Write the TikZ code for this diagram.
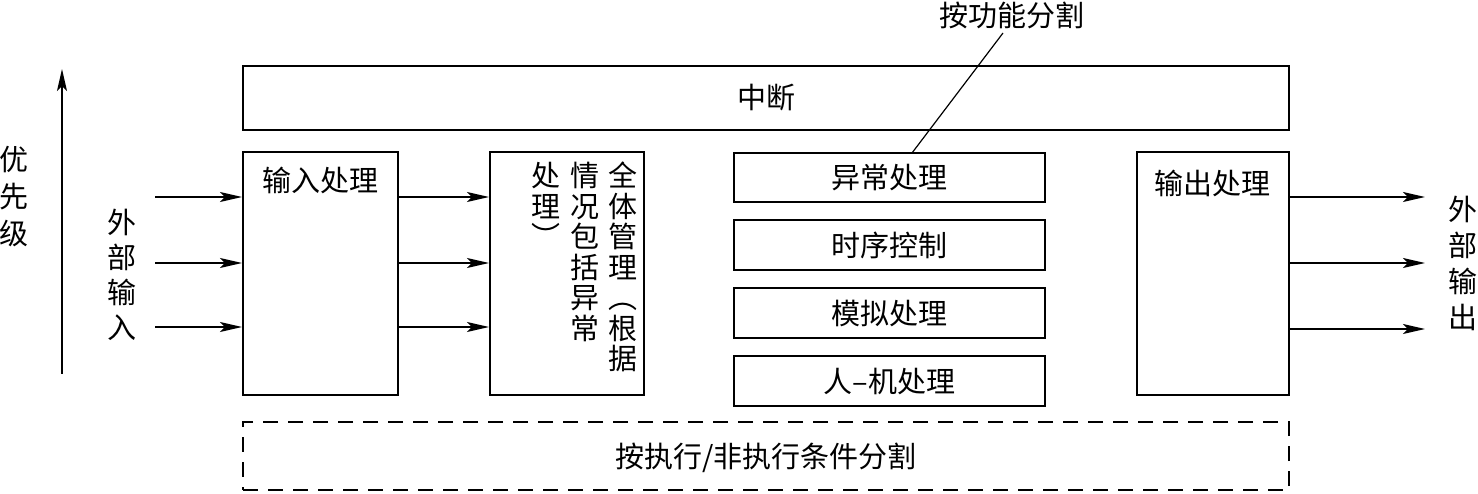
\documentclass[tikz,border=0pt]{standalone}
\usepackage{fontspec}
\newfontfamily\cjk{Noto Sans CJK SC}
\usetikzlibrary{arrows.meta,calc}
\begin{document}
\begin{tikzpicture}[x=1pt,y=1pt,
  box/.style={draw=black,line width=2pt,inner sep=0pt,fill=none},
  dbox/.style={draw=black,line width=1.7pt,inner sep=0pt,dash pattern=on 15pt off 10pt},
  txt/.style={font=\cjk\fontsize{29}{30.5}\selectfont,inner sep=0pt,align=center,text=black},
  arr/.style={line width=1.4pt,-{Stealth[length=22pt,width=10pt,inset=5pt]}},
  leader/.style={line width=1.2pt}]
\useasboundingbox (0,0) rectangle (1478,493);
% top interrupt bar
\node[box,minimum width=1046pt,minimum height=64pt] (intr) at (766,395) {};
\node[txt] (intrT) at (766,395) {中断};
% input box
\node[box,minimum width=155pt,minimum height=243pt] (inbox) at (320.5,219.5) {};
\node[txt] (inT) at (320.5,313) {输入处理};
% management box
\node[box,minimum width=154pt,minimum height=243pt] (mgmt) at (567,219.5) {};
\node[txt,anchor=north] (m1) at (623,331) {全\\体\\管\\理\\︵\\根\\据};
\node[txt,anchor=north] (m2) at (585,331) {情\\况\\包\\括\\异\\常};
\node[txt,anchor=north] (m3) at (546,331) {处\\理\\︶};
% function boxes
\node[box,minimum width=311pt,minimum height=49pt] (exc) at (889.5,315.5) {};
\node[txt] (excT) at (889.5,315.5) {异常处理};
\node[box,minimum width=311pt,minimum height=50pt] (seq) at (889.5,248) {};
\node[txt] (seqT) at (889.5,248) {时序控制};
\node[box,minimum width=311pt,minimum height=50pt] (sim) at (889.5,180) {};
\node[txt] (simT) at (889.5,180) {模拟处理};
\node[box,minimum width=311pt,minimum height=50pt] (hmi) at (889.5,112) {};
\node[txt] (hmiT) at (889.5,112) {人–机处理};
% output box
\node[box,minimum width=152pt,minimum height=243pt] (outbox) at (1213,219.5) {};
\node[txt] (outT) at (1212,310) {输出处理};
% dashed bar
\node[dbox,minimum width=1046pt,minimum height=68pt] (cond) at (766,37) {};
\node[txt] (condT) at (766,35) {按执行/非执行条件分割};
% function label
\node[txt] (func) at (1012,478) {按功能分割};
\coordinate (fa) at (1003,460);
\coordinate (fb) at (912,340);
\draw[leader] (fa) -- (fb);
% priority
\coordinate (p0) at (62,119);
\coordinate (p1) at (62,424);
\draw[arr] (p0) -- (p1);
\node[txt,font=\cjk\fontsize{29}{37}\selectfont] (prio) at (14,296) {优\\先\\级};
% external input
\node[txt,font=\cjk\fontsize{29}{35}\selectfont] (extin) at (122,218) {外\\部\\输\\入};
\coordinate (in1) at (155,296);
\coordinate (in2) at (155,230);
\coordinate (in3) at (155,166);
\foreach \c in {in1,in2,in3}{
  \draw[arr] (\c) -- (\c -| inbox.west);
  \draw[arr] (\c -| inbox.east) -- (\c -| mgmt.west);
}
% external output
\coordinate (o1) at (1425,296);
\coordinate (o2) at (1425,230);
\coordinate (o3) at (1425,164);
\foreach \c in {o1,o2,o3}{
  \draw[arr] (\c -| outbox.east) -- (\c);
}
\node[txt,font=\cjk\fontsize{29}{36}\selectfont] (extout) at (1463,230) {外\\部\\输\\出};
\end{tikzpicture}
\end{document}
